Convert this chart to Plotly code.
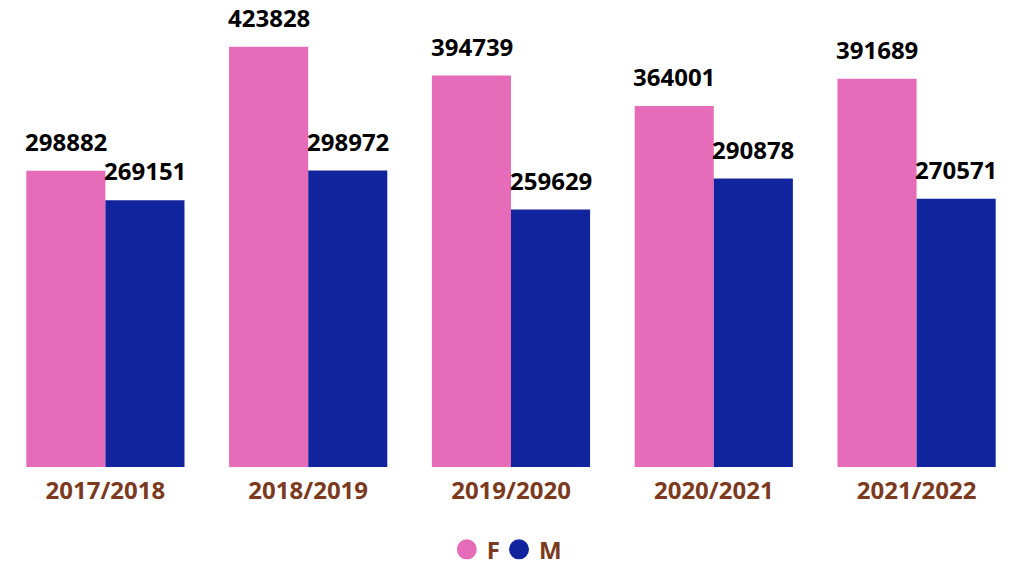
import plotly.graph_objects as go

categories = ["2017/2018", "2018/2019", "2019/2020", "2020/2021", "2021/2022"]
female = [298882, 423828, 394739, 364001, 391689]
male = [269151, 298972, 259629, 290878, 270571]

PINK = "#E66BB8"
BLUE = "#12239E"
BROWN = "#7B3A1E"
FONT = "Open Sans"

fig = go.Figure()
fig.add_trace(go.Bar(x=categories, y=female, name="F", marker_color=PINK,
                     marker_line_width=0, showlegend=False))
fig.add_trace(go.Bar(x=categories, y=male, name="M", marker_color=BLUE,
                     marker_line_width=0, showlegend=False))

# legend entries with circular markers (one legend box per entry for tight spacing)
fig.add_trace(go.Scatter(x=[None], y=[None], mode="markers", name="F", legend="legend",
                         marker=dict(color=PINK, size=16, symbol="circle",
                                     line=dict(color=PINK, width=4))))
fig.add_trace(go.Scatter(x=[None], y=[None], mode="markers", name="M", legend="legend2",
                         marker=dict(color=BLUE, size=16, symbol="circle",
                                     line=dict(color=BLUE, width=4))))

annotations = []
for series, shift in ((female, -39.5), (male, 39.5)):
    for cat, val in zip(categories, series):
        annotations.append(dict(
            x=cat, y=val, text=str(val), showarrow=False,
            xanchor="center", yanchor="bottom", xshift=shift, yshift=11,
            font=dict(family=FONT, size=24, color="#000000", weight="bold"),
        ))

legend_style = dict(orientation="h", xref="container", xanchor="left",
                    yref="container", y=0.027, yanchor="middle",
                    font=dict(family=FONT, size=24, color=BROWN, weight="bold"),
                    itemsizing="trace", itemwidth=30, bgcolor="rgba(0,0,0,0)")

fig.update_layout(
    width=1027, height=565,
    margin=dict(l=4, r=9, t=0, b=98),
    plot_bgcolor="white", paper_bgcolor="white",
    barmode="group", bargap=0.22, bargroupgap=0,
    annotations=annotations,
    xaxis=dict(showgrid=False, showline=False, zeroline=False,
               ticks="outside", ticklen=2, tickcolor="white",
               tickfont=dict(family=FONT, size=24, color=BROWN, weight="bold")),
    yaxis=dict(range=[0, 471000], visible=False, showgrid=False),
    legend=dict(x=0.4351, **legend_style),
    legend2=dict(x=0.4859, **legend_style),
)

fig.write_html("out.html", config={"displayModeBar": False},
               post_script="document.body.style.margin='0';")
